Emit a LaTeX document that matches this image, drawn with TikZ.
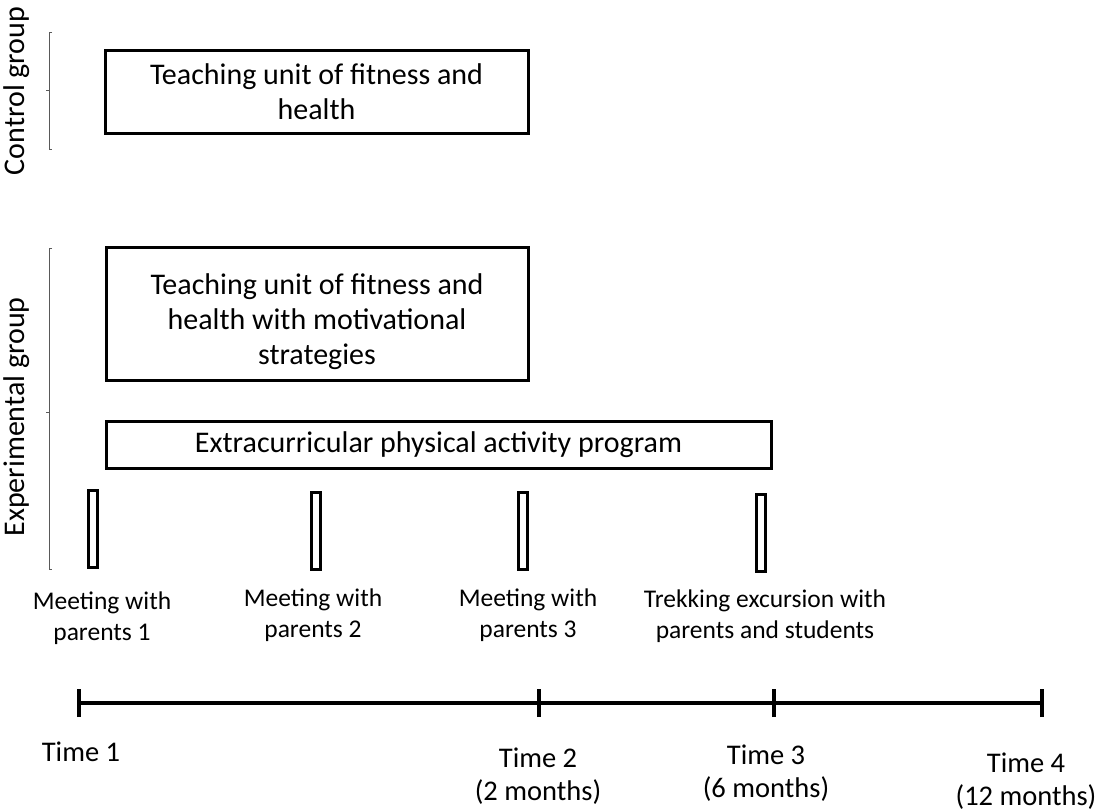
\documentclass[tikz,border=0pt]{standalone}
\usepackage{fontspec}
\setmainfont{Carlito}
\begin{document}
\begin{tikzpicture}[x=1pt,y=-1pt,
  box/.style={draw=black,line width=3pt,align=center,inner sep=0pt},
  bar/.style={draw=black,line width=2.4pt,minimum width=9pt,minimum height=77pt,inner sep=0pt},
  lbl/.style={align=center,font=\fontsize{25.5}{31}\selectfont},
  tlbl/.style={align=center,font=\fontsize{28.5}{33}\selectfont},
  bigtxt/.style={align=center,font=\fontsize{30}{35}\selectfont},
  grptxt/.style={font=\fontsize{30}{36}\selectfont},
  brk/.style={draw=gray!70!black,line width=1pt},
  axis/.style={line width=3.4pt}]
\useasboundingbox (0,0) rectangle (1102,811);
% group labels
\node[rotate=90,grptxt] (cg) at (17,91) {Control group};
\node[rotate=90,grptxt] (eg) at (17,417) {Experimental group};
% brackets
\draw[brk] (52,32) -- (49,32) -- (49,149) -- (52,149);
\draw[brk] (46,90) -- (49,90);
\draw[brk] (52,248) -- (49,248) -- (49,569) -- (52,569);
\draw[brk] (46,412) -- (49,412);
% boxes
\node[box,minimum width=423pt,minimum height=83pt,bigtxt] (c1) at (316.5,91.5) {Teaching unit of fitness and\\health};
\node[box,minimum width=422pt,minimum height=133pt] (e1) at (317,313.5) {};
\node[bigtxt] (e1t) at (317,322) {Teaching unit of fitness and\\health with motivational\\strategies};
\node[box,minimum width=665pt,minimum height=47pt,bigtxt] (e2) at (438.5,444.5) {Extracurricular physical activity program};
% meeting bars
\node[bar] (m1) at (93,529) {};
\node[bar] (m2) at (316,531) {};
\node[bar] (m3) at (523,531) {};
\node[bar] (m4) at (761,533) {};
\node[lbl] (l1) at (102,618) {Meeting with\\parents 1};
\node[lbl] (l2) at (313,615) {Meeting with\\parents 2};
\node[lbl] (l3) at (528,615) {Meeting with\\parents 3};
\node[lbl] (l4) at (765,616) {Trekking excursion with\\parents and students};
% timeline
\coordinate (t1) at (79,703);
\coordinate (t2) at (539,703);
\coordinate (t3) at (774,703);
\coordinate (t4) at (1042,703);
\draw[axis] (t1) -- (t2) -- (t3) -- (t4);
\foreach \t in {t1,t2,t3,t4} \draw[axis] ([yshift=-14pt]\t) -- ([yshift=14pt]\t);
\node[tlbl] (T1) at (81,752) {Time 1};
\node[tlbl] (T2) at (538,776) {Time 2\\(2 months)};
\node[tlbl] (T3) at (766,773) {Time 3\\(6 months)};
\node[tlbl] (T4) at (1026,781) {Time 4\\(12 months)};
\end{tikzpicture}
\end{document}
